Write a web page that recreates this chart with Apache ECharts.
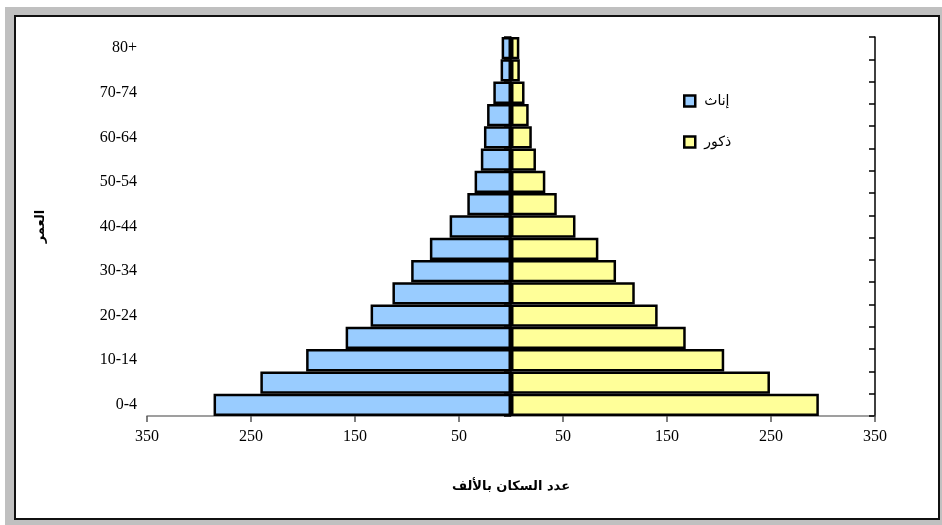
<!DOCTYPE html>
<html>
<head>
<meta charset="utf-8">
<script src="https://cdn.jsdelivr.net/npm/echarts@6/dist/echarts.min.js"></script>
<style>
  html, body { margin: 0; padding: 0; background: #ffffff; }
  #chart { width: 942px; height: 525px; }
</style>
</head>
<body>
<div id="chart"></div>
<script>
// Age groups (bottom to top)
const ageGroups = ['0-4','5-9','10-14','15-19','20-24','25-29','30-34','35-39','40-44','45-49','50-54','55-59','60-64','65-69','70-74','75-79','80+'];
// Population in thousands
const females = [286, 241, 197, 159, 135, 114, 96, 78, 59, 42, 35, 29, 26, 23, 17, 10, 9];
const males   = [296, 249, 205, 168, 141, 119, 101, 84, 62, 44, 33, 24, 20, 17, 13, 8.5, 8];
// X axis ticks
const xMin = -350, xMax = 350, xInterval = 100;

const femaleName = 'إناث';
const maleName = 'ذكور';

const chart = echarts.init(document.getElementById('chart'), null, { renderer: 'canvas' });

const serifFont = '"Liberation Serif", "Times New Roman", serif';
const arabicFont = '"DejaVu Sans", "Noto Sans", Arial, sans-serif';

const option = {
  animation: false,
  backgroundColor: '#ffffff',
  graphic: {
    elements: [
      { type: 'rect', z: -100, silent: true,
        shape: { x: 5, y: 7, width: 937, height: 518 },
        style: { fill: '#c0c0c0' } },
      { type: 'rect', z: -99, silent: true,
        shape: { x: 15, y: 16, width: 924, height: 503 },
        style: { fill: '#ffffff', stroke: '#111111', lineWidth: 2 } }
    ]
  },
  grid: { left: 147, right: 67, top: 37, bottom: 109, containLabel: false },
  legend: {
    orient: 'vertical',
    left: 678,
    top: 89,
    itemWidth: 11,
    itemHeight: 11,
    itemGap: 27,
    icon: 'rect',
    data: [femaleName, maleName],
    itemStyle: { borderColor: '#000', borderWidth: 2.5 },
    textStyle: { fontFamily: arabicFont, fontSize: 14, color: '#000', padding: [2, 0, 0, 4] }
  },
  xAxis: {
    type: 'value',
    min: xMin,
    max: xMax,
    interval: xInterval,
    name: 'عدد السكان بالألف',
    nameLocation: 'middle',
    nameGap: 64,
    nameTextStyle: { fontFamily: arabicFont, fontSize: 13, fontWeight: 'bold', color: '#000' },
    axisLine: { show: true, lineStyle: { color: '#808080', width: 1.5 } },
    axisTick: { show: true, length: 6, lineStyle: { color: '#555', width: 1.5 } },
    axisLabel: {
      fontFamily: serifFont, fontSize: 16, color: '#000', margin: 13,
      formatter: v => String(Math.abs(v))
    },
    splitLine: { show: false }
  },
  yAxis: [
    {
      type: 'category',
      position: 'left',
      data: ageGroups,
      boundaryGap: true,
      name: 'العمر',
      nameLocation: 'middle',
      nameRotate: 90,
      nameGap: 100,
      nameTextStyle: { fontFamily: arabicFont, fontSize: 13, fontWeight: 'bold', color: '#000' },
      axisLine: { show: true, lineStyle: { color: '#000', width: 1.5 } },
      axisTick: { show: true, interval: 0, length: 7, inside: false, lineStyle: { color: '#000', width: 1.5 } },
      axisLabel: { interval: 1, fontFamily: serifFont, fontSize: 16, color: '#000', margin: 10 },
      splitLine: { show: false }
    },
    {
      type: 'category',
      position: 'right',
      data: ageGroups,
      boundaryGap: true,
      axisLine: { show: true, lineStyle: { color: '#000', width: 1.5 } },
      axisTick: { show: true, interval: 0, length: 6, inside: true, lineStyle: { color: '#000', width: 1.5 } },
      axisLabel: { show: false },
      splitLine: { show: false }
    }
  ],
  series: [
    {
      name: femaleName,
      type: 'bar',
      stack: 'pop',
      yAxisIndex: 0,
      barCategoryGap: '0%',
      data: females.map(v => -v),
      itemStyle: { color: '#99ccff', borderColor: '#000', borderWidth: 2.5 }
    },
    {
      name: maleName,
      type: 'bar',
      stack: 'pop',
      yAxisIndex: 0,
      barCategoryGap: '0%',
      data: males,
      itemStyle: { color: '#ffff99', borderColor: '#000', borderWidth: 2.5 }
    }
  ]
};

chart.setOption(option);
</script>
</body>
</html>
